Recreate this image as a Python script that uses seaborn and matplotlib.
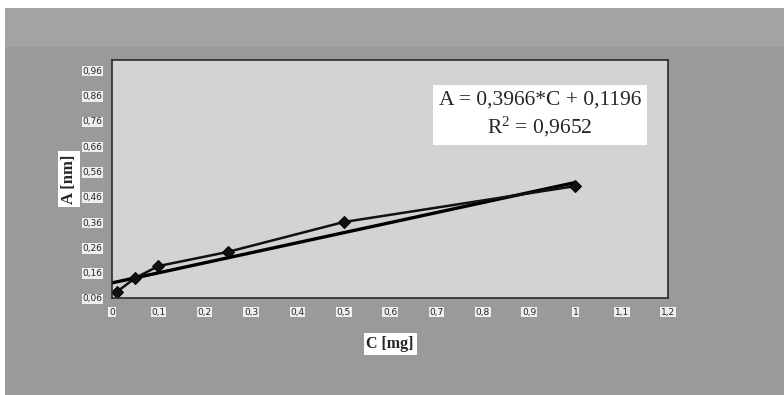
import numpy as np
import pandas as pd
import seaborn as sns
import matplotlib.pyplot as plt
from matplotlib.patches import Rectangle

# calibration data
conc = [0.01, 0.05, 0.1, 0.25, 0.5, 1.0]
absorb = [0.084, 0.139, 0.186, 0.242, 0.360, 0.502]
slope = 0.3966
intercept = 0.1196
r2 = 0.9652

x_ticks = [0, 0.1, 0.2, 0.3, 0.4, 0.5, 0.6, 0.7, 0.8, 0.9, 1, 1.1, 1.2]
x_labels = ['0', '0,1', '0,2', '0,3', '0,4', '0,5', '0,6', '0,7', '0,8', '0,9', '1', '1,1', '1,2']
y_ticks = [0.06, 0.16, 0.26, 0.36, 0.46, 0.56, 0.66, 0.76, 0.86, 0.96]
y_labels = ['0,06', '0,16', '0,26', '0,36', '0,46', '0,56', '0,66', '0,76', '0,86', '0,96']

df = pd.DataFrame({'C': conc, 'A': absorb})
fit_x = np.linspace(0, 1, 50)
fit = pd.DataFrame({'C': fit_x, 'A': slope * fit_x + intercept})

sns.set_style('white')
fig = plt.figure(figsize=(7.84, 3.95), dpi=100, facecolor='white')
# scanned grey frame behind the chart
fig.patches.append(Rectangle((0.006, 0), 0.994, 0.98, transform=fig.transFigure,
                             facecolor='#9a9a9a', edgecolor='none', zorder=-10))
fig.patches.append(Rectangle((0.006, 0.88), 0.994, 0.10, transform=fig.transFigure,
                             facecolor='#a3a3a3', edgecolor='none', zorder=-9))

ax = fig.add_axes([0.1429, 0.2456, 0.7092, 0.6025])
ax.set_facecolor('#d3d3d3')

sns.lineplot(data=fit, x='C', y='A', ax=ax, color='black', linewidth=2.4)
sns.lineplot(data=df, x='C', y='A', ax=ax, color='#111111', linewidth=1.8,
             marker='D', markersize=6.5, markeredgecolor='black')

ax.set_xlim(0, 1.2)
ax.set_ylim(0.06, 1.0)
ax.set_xticks(x_ticks)
ax.set_xticklabels(x_labels)
ax.set_yticks(y_ticks)
ax.set_yticklabels(y_labels)
ax.tick_params(axis='both', labelsize=6.5, length=3, width=0.8, color='#333333',
               direction='out', pad=4)
for lab in ax.get_xticklabels() + ax.get_yticklabels():
    lab.set_family('DejaVu Sans')
    lab.set_bbox(dict(facecolor='#eeeeee', edgecolor='none', pad=0.5))

for s in ax.spines.values():
    s.set_color('#2a2a2a')
    s.set_linewidth(1.2)

lbl_box = dict(facecolor='white', edgecolor='none', pad=2)
ax.set_xlabel('C [mg]', fontsize=11.5, fontweight='bold', family='Liberation Serif',
              bbox=lbl_box, labelpad=14)
ax.set_ylabel('A [nm]', fontsize=12, fontweight='bold', family='Liberation Serif',
              bbox=lbl_box, labelpad=4)

ax.text(0.77, 0.77, 'A = 0,3966*C + 0,1196\n$\\mathregular{R^2}$ = 0,9652',
        transform=ax.transAxes, ha='center', va='center', fontsize=15.5,
        family='Liberation Serif', linespacing=1.3,
        bbox=dict(facecolor='white', edgecolor='none', pad=4))

plt.savefig('out.png', dpi=100, facecolor=fig.get_facecolor())
